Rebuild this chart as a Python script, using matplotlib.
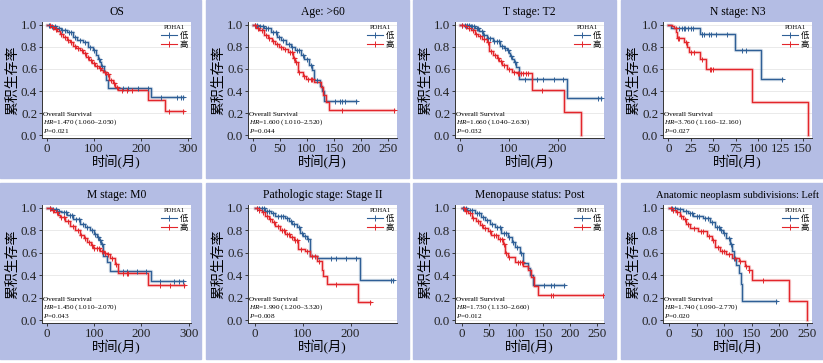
import numpy as np
import matplotlib
matplotlib.use("Agg")
import matplotlib.pyplot as plt
from matplotlib.patches import Rectangle
from matplotlib.lines import Line2D

plt.rcParams['font.family'] = ['Liberation Serif', 'Noto Sans CJK SC']
plt.rcParams['mathtext.fontset'] = 'custom'
plt.rcParams['mathtext.rm'] = 'Liberation Serif'
plt.rcParams['mathtext.it'] = 'Liberation Serif:italic'

# ---- data (time in months, survival after each step, censor times) ----
os_low_t = [0, 10, 20, 30, 42, 55, 65, 77, 88, 98, 104, 109, 113, 116, 121, 125, 130, 221]
os_low_s = [1.0, .99, .97, .95, .93, .89, .86, .84, .80, .77, .73, .69, .66, .63, .57, .50, .43, .35]
os_low_c = [5, 12, 18, 25, 33, 38, 47, 52, 60, 70, 82, 92, 101, 111, 118, 161, 172, 193, 214, 242, 277, 284, 288]
os_high_t = [0, 8, 15, 22, 28, 35, 42, 49, 56, 63, 70, 77, 84, 90, 96, 102, 110, 116, 120, 126, 133, 140, 144, 151, 214, 250]
os_high_s = [1.0, .98, .96, .94, .92, .89, .86, .84, .81, .79, .77, .74, .71, .68, .65, .63, .61, .59, .57, .55, .50, .47, .44, .41, .32, .215]
os_high_c = [6, 14, 20, 30, 38, 45, 52, 60, 67, 74, 82, 88, 94, 100, 106, 112, 123, 130, 136, 142, 148, 160, 170, 180, 260, 290]

age_low_t = [0, 10, 20, 34, 45, 52, 62, 70, 77, 89, 95, 104, 110, 113, 123, 127, 132]
age_low_s = [1.0, .99, .97, .93, .89, .86, .83, .80, .77, .73, .69, .64, .59, .50, .45, .40, .31]
age_low_c = [3, 8, 14, 18, 24, 28, 38, 42, 48, 56, 66, 73, 82, 86, 92, 99, 107, 118, 152, 160, 165, 170, 190]
age_high_t = [0, 6, 12, 20, 28, 35, 40, 48, 55, 64, 74, 78, 83, 92, 98, 113, 126, 129, 135, 141]
age_high_s = [1.0, .97, .95, .91, .88, .85, .83, .80, .78, .75, .70, .66, .57, .54, .51, .48, .44, .36, .30, .23]
age_high_c = [4, 10, 16, 24, 30, 38, 45, 52, 60, 68, 72, 76, 80, 86, 95, 102, 108, 110, 165, 260]

t2_low_t = [0, 20, 30, 40, 48, 55, 68, 82, 90, 96, 100, 103, 107, 110, 115, 120, 219]
t2_low_s = [1.0, .99, .97, .94, .91, .88, .85, .81, .79, .77, .74, .72, .69, .66, .62, .51, .34]
t2_low_c = [5, 10, 15, 18, 22, 25, 28, 35, 38, 45, 50, 58, 62, 70, 75, 80, 86, 93, 98, 105, 112,
            133, 158, 171, 192, 212, 283, 288]
t2_high_t = [0, 8, 14, 22, 31, 38, 45, 56, 60, 68, 75, 80, 86, 96, 106, 116, 147, 214, 248]
t2_high_s = [1.0, .99, .97, .95, .92, .90, .87, .84, .76, .73, .70, .67, .64, .60, .57, .56, .41, .21, 0.0]
t2_high_c = [5, 12, 18, 26, 34, 42, 50, 58, 64, 72, 78, 84, 90, 100, 110, 118, 122, 126, 130, 135, 140, 168]

n3_low_t = [0, 3, 35, 74, 103]
n3_low_s = [1.0, .97, .92, .77, .51]
n3_low_c = [12, 15, 17, 19, 22, 25, 27, 37, 38, 40, 45, 48, 53, 65, 82, 86, 127]
n3_high_t = [0, 4, 6, 9, 10, 17, 21, 23, 35, 42, 93, 155]
n3_high_s = [1.0, .99, .97, .93, .88, .84, .80, .75, .69, .60, .30, 0.0]
n3_high_c = [8, 11, 12, 20, 25, 28, 38, 46, 48, 50]

m0_low_t = [0, 10, 20, 30, 42, 55, 70, 80, 91, 100, 105, 110, 115, 119, 126, 133, 220]
m0_low_s = [1.0, .99, .97, .96, .94, .90, .86, .83, .80, .77, .74, .71, .68, .57, .52, .44, .35]
m0_low_c = [5, 12, 18, 25, 35, 40, 48, 52, 62, 68, 75, 85, 95, 102, 108, 113, 117,
            160, 170, 190, 210, 240, 270, 280, 288]
m0_high_t = [0, 8, 15, 22, 28, 38, 49, 60, 70, 78, 84, 92, 98, 112, 120, 126, 133, 143, 150, 213]
m0_high_s = [1.0, .98, .96, .94, .92, .88, .84, .80, .76, .73, .70, .67, .64, .62, .60, .59, .55, .50, .42, .31]
m0_high_c = [5, 12, 20, 30, 36, 45, 55, 65, 72, 80, 88, 95, 100, 105, 110, 116, 122, 130, 138, 145,
             160, 170, 172, 240, 260, 290]

st2_low_t = [0, 22, 35, 43, 64, 72, 78, 88, 95, 100, 109, 116, 129, 219]
st2_low_s = [1.0, .97, .95, .93, .91, .88, .86, .83, .78, .75, .72, .57, .55, .36]
st2_low_c = [5, 10, 15, 20, 26, 30, 38, 48, 55, 60, 68, 75, 82, 92, 98, 104, 112, 160, 170, 190, 212, 285, 289]
st2_high_t = [0, 8, 15, 22, 29, 36, 43, 53, 64, 74, 81, 91, 105, 116, 129, 140, 143, 150, 216]
st2_high_s = [1.0, .98, .96, .93, .90, .87, .84, .80, .77, .74, .71, .63, .62, .57, .53, .45, .39, .32, .16]
st2_high_c = [4, 10, 18, 25, 32, 40, 48, 58, 62, 68, 72, 78, 84, 88, 96, 110, 120, 125, 134, 170, 240]

meno_low_t = [0, 10, 24, 35, 43, 52, 61, 73, 85, 92, 98, 107, 113, 122, 125, 131]
meno_low_s = [1.0, .98, .95, .92, .89, .86, .83, .78, .74, .70, .65, .60, .51, .46, .40, .31]
meno_low_c = [3, 8, 15, 20, 28, 32, 40, 47, 56, 65, 70, 78, 82, 88, 95, 102, 110, 152, 165, 170, 189]
meno_high_t = [0, 6, 12, 20, 27, 34, 40, 48, 55, 67, 76, 80, 85, 98, 113, 122, 127, 134, 141]
meno_high_s = [1.0, .97, .95, .91, .88, .85, .82, .79, .76, .72, .68, .60, .56, .52, .48, .45, .38, .30, .22]
meno_high_c = [4, 9, 16, 22, 30, 37, 44, 52, 60, 64, 70, 74, 78, 82, 88, 104, 108, 112, 165, 168, 260]

left_low_t = [0, 15, 25, 35, 44, 62, 74, 83, 92, 98, 104, 110, 114, 117, 121, 126, 130, 132]
left_low_s = [1.0, .99, .97, .95, .93, .91, .87, .83, .80, .78, .73, .68, .62, .55, .49, .42, .32, .17]
left_low_c = [5, 10, 20, 30, 38, 42, 50, 55, 65, 70, 78, 86, 90, 95, 100, 108, 112, 118, 194]
left_high_t = [0, 6, 13, 19, 25, 31, 38, 53, 68, 77, 83, 92, 104, 114, 126, 138, 144, 150, 217, 250]
left_high_s = [1.0, .98, .96, .93, .90, .86, .82, .79, .75, .71, .65, .62, .59, .55, .53, .48, .45, .36, .17, 0.0]
left_high_c = [4, 8, 15, 22, 28, 35, 45, 58, 62, 72, 80, 88, 96, 100, 108, 120, 128, 140, 145, 170]

titles = ["OS", "Age: >60", "T stage: T2", "N stage: N3",
          "M stage: M0", "Pathologic stage: Stage II", "Menopause status: Post",
          "Anatomic neoplasm subdivisions: Left"]
hr_text = ["1.470 (1.060\u20132.050)", "1.600 (1.010\u20132.520)", "1.660 (1.040\u20132.630)",
           "3.760 (1.160\u201312.160)", "1.450 (1.010\u20132.070)", "1.990 (1.200\u20133.320)",
           "1.730 (1.130\u20132.660)", "1.740 (1.090\u20132.770)"]
p_text = ["0.021", "0.044", "0.032", "0.027", "0.043", "0.008", "0.012", "0.020"]
xticks = [[0, 100, 200, 300], [0, 50, 100, 150, 200, 250], [0, 100, 200],
          [0, 25, 50, 75, 100, 125, 150], [0, 100, 200, 300], [0, 100, 200],
          [0, 50, 100, 150, 200, 250], [0, 50, 100, 150, 200, 250]]
xlims = [(-10, 306), (-9, 266), (-10, 295), (-6, 160), (-11, 305), (-14, 297), (-12, 262), (-11, 259)]

curves = [
    ((os_low_t, os_low_s, os_low_c), (os_high_t, os_high_s, os_high_c)),
    ((age_low_t, age_low_s, age_low_c), (age_high_t, age_high_s, age_high_c)),
    ((t2_low_t, t2_low_s, t2_low_c), (t2_high_t, t2_high_s, t2_high_c)),
    ((n3_low_t, n3_low_s, n3_low_c), (n3_high_t, n3_high_s, n3_high_c)),
    ((m0_low_t, m0_low_s, m0_low_c), (m0_high_t, m0_high_s, m0_high_c)),
    ((st2_low_t, st2_low_s, st2_low_c), (st2_high_t, st2_high_s, st2_high_c)),
    ((meno_low_t, meno_low_s, meno_low_c), (meno_high_t, meno_high_s, meno_high_c)),
    ((left_low_t, left_low_s, left_low_c), (left_high_t, left_high_s, left_high_c)),
]

BLUE = "#2f5f96"
RED = "#e3262b"
BG = "#b4bde4"
W, H = 823, 363


def rect(x, y, w, h):
    return [x / W, 1 - (y + h) / H, w / W, h / H]


def km(ax, t, s, c, color):
    t = list(t)
    s = list(s)
    end = max(t[-1], max(c) if c else 0)
    tt = t + [end]
    ss = s + [s[-1]]
    for lw, a in ((2.4, 0.22), (0.95, 1.0)):
        ax.step(tt, ss, where="post", color=color, lw=lw, alpha=a, zorder=3)
    idx = np.searchsorted(t, c, side="right") - 1
    cy = np.array(s)[idx]
    ax.plot(c, cy, ls="none", marker="+", ms=3.6, mew=0.7, color=color, zorder=4)


fig = plt.figure(figsize=(W / 100, H / 100), dpi=100)
panel_x = [0, 206, 413, 621]
panel_w = [201, 203, 203, 202]
panel_y = [0, 183]
panel_h = [178, 176]
ax_h = [116, 118]

for i in range(8):
    r, col = divmod(i, 4)
    px, py = panel_x[col], panel_y[r]
    fig.add_artist(Rectangle((px / W, 1 - (py + panel_h[r]) / H), panel_w[col] / W, panel_h[r] / H,
                             transform=fig.transFigure, color=BG, zorder=0))
    ax = fig.add_axes(rect(px + 42, py + 22, 149, ax_h[r]))
    ax.set_facecolor("white")
    low, high = curves[i]
    km(ax, *low, BLUE)
    km(ax, *high, RED)

    ax.set_xlim(*xlims[i])
    ax.set_ylim(-0.025, 1.025)
    ax.set_xticks(xticks[i])
    ax.set_yticks([0, 0.2, 0.4, 0.6, 0.8, 1.0])
    ax.set_yticklabels(["0.0", "0.2", "0.4", "0.6", "0.8", "1.0"])
    ax.yaxis.grid(True, color="#e6e6e6", lw=0.6, zorder=0)
    ax.set_axisbelow(True)
    for sp in ("top", "right"):
        ax.spines[sp].set_visible(False)
    for sp in ("left", "bottom"):
        ax.spines[sp].set_color("#333333")
        ax.spines[sp].set_linewidth(0.7)
    ax.tick_params(labelsize=9.3, length=2.5, width=0.6, pad=1, colors="#222222")

    tsize = 7.6 if len(titles[i]) > 30 else 8.4
    ax.set_title(titles[i], fontsize=tsize, pad=5)
    ax.set_ylabel("累积生存率", fontsize=10, labelpad=1)
    ax.set_xlabel("时间(月)", fontsize=9.5, labelpad=0)

    ax.text(0.01, 0.025, "Overall Survival\n$\\it{HR}$=" + hr_text[i] + "\n$\\it{P}$=" + p_text[i],
            transform=ax.transAxes, fontsize=5.2, linespacing=1.05, va="bottom", ha="left", zorder=5)

    handles = [Line2D([], [], color=BLUE, lw=0.8, marker="+", ms=5, mew=0.7),
               Line2D([], [], color=RED, lw=0.8, marker="+", ms=5, mew=0.7)]
    leg = ax.legend(handles, ["低", "高"], title="PDHA1", loc="upper right", frameon=False,
                    fontsize=6, title_fontsize=4.8, handlelength=2.0, borderaxespad=0.25,
                    labelspacing=0.2, handletextpad=0.3, borderpad=0.1)

fig.savefig("out.png", dpi=100)
